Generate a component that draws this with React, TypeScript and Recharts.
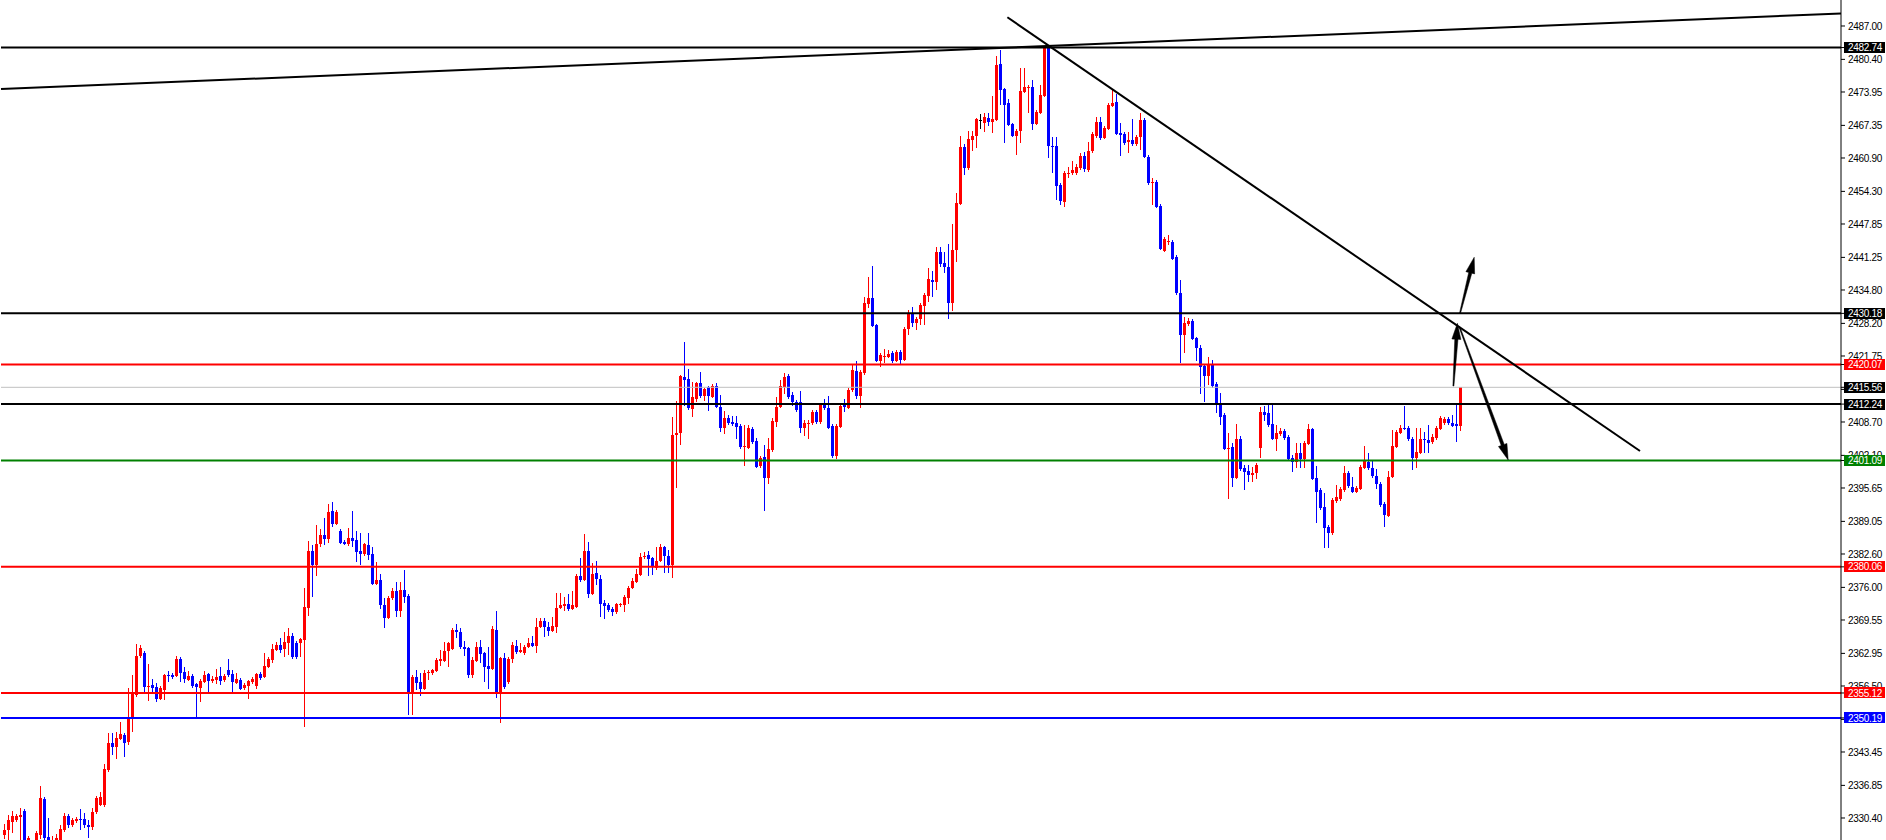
import React from 'react';
import { ComposedChart, Bar, XAxis, YAxis, ReferenceLine } from 'recharts';

const opens = [
  2327.0, 2328.0, 2329.6, 2330.0, 2330.6, 2331.8, 2326.1, 2324.1, 2325.1, 2327.0,
  2334.2, 2326.6, 2324.9, 2325.7, 2325.7, 2328.0, 2330.8, 2329.0, 2329.8, 2330.2,
  2330.2, 2329.0, 2328.6, 2331.6, 2332.9, 2332.9, 2339.9, 2345.2, 2344.4, 2346.0,
  2346.8, 2345.4, 2350.2, 2354.7, 2362.4, 2363.0, 2356.3, 2356.7, 2356.3, 2353.9,
  2355.7, 2358.7, 2358.7, 2358.5, 2361.8, 2359.3, 2357.7, 2358.5, 2356.9, 2356.1,
  2357.3, 2358.9, 2357.5, 2357.7, 2358.5, 2357.7, 2359.7, 2358.9, 2357.1, 2357.7,
  2356.1, 2356.5, 2357.3, 2356.5, 2358.9, 2358.3, 2360.3, 2361.6, 2363.6, 2364.6,
  2363.8, 2365.0, 2366.4, 2365.0, 2365.0, 2365.6, 2371.9, 2383.2, 2380.4, 2384.6,
  2386.4, 2385.6, 2391.1, 2388.5, 2387.1, 2385.0, 2384.6, 2385.8, 2385.4, 2383.2,
  2382.6, 2384.4, 2382.6, 2376.7, 2377.5, 2372.5, 2370.0, 2373.9, 2375.3, 2371.3,
  2375.5, 2374.3, 2355.1, 2358.3, 2357.3, 2355.9, 2359.0, 2359.1, 2359.5, 2361.4,
  2361.4, 2363.4, 2363.8, 2367.6, 2367.2, 2364.2, 2364.0, 2358.7, 2361.4, 2364.2,
  2363.0, 2360.5, 2359.9, 2367.6, 2354.9, 2362.0, 2357.3, 2361.8, 2364.4, 2363.2,
  2363.0, 2364.2, 2365.0, 2364.4, 2368.2, 2369.4, 2368.2, 2367.4, 2368.2, 2371.9,
  2372.3, 2372.7, 2371.7, 2372.1, 2378.3, 2377.5, 2383.2, 2374.7, 2378.8, 2377.7,
  2372.9, 2372.5, 2371.7, 2371.1, 2372.5, 2372.5, 2373.9, 2375.9, 2377.1, 2378.4,
  2382.0, 2382.4, 2381.8, 2379.8, 2381.2, 2384.0, 2382.2, 2380.4, 2406.1, 2406.5,
  2417.6, 2417.2, 2411.3, 2413.3, 2416.4, 2413.8, 2415.6, 2413.6, 2415.8, 2411.7,
  2407.5, 2409.5, 2408.7, 2408.5, 2407.9, 2403.7, 2403.6, 2407.3, 2404.9, 2400.0,
  2401.8, 2397.6, 2403.2, 2408.7, 2411.7, 2415.6, 2417.8, 2414.0, 2412.6, 2412.6,
  2407.5, 2408.3, 2408.5, 2410.7, 2408.7, 2412.1, 2411.5, 2407.9, 2402.0, 2407.7,
  2412.1, 2411.5, 2415.0, 2418.8, 2413.8, 2418.4, 2432.0, 2433.2, 2427.9, 2420.8,
  2421.6, 2421.6, 2422.3, 2420.8, 2422.5, 2421.0, 2427.1, 2430.2, 2428.3, 2429.1,
  2431.6, 2433.6, 2436.8, 2436.4, 2442.3, 2440.1, 2439.3, 2432.2, 2442.7, 2451.8,
  2463.1, 2458.9, 2464.5, 2465.2, 2468.5, 2467.8, 2468.8, 2468.0, 2468.4, 2479.5,
  2474.5, 2471.8, 2467.6, 2465.2, 2466.2, 2473.9, 2474.8, 2474.9, 2467.6, 2469.8,
  2473.2, 2482.6, 2463.3, 2463.3, 2455.6, 2452.2, 2457.7, 2457.9, 2457.9, 2458.9,
  2461.3, 2458.5, 2462.3, 2465.2, 2468.0, 2464.8, 2466.6, 2471.2, 2472.0, 2465.8,
  2465.6, 2464.1, 2464.5, 2463.7, 2465.0, 2468.4, 2461.1, 2456.0, 2456.2, 2451.4,
  2442.5, 2444.2, 2444.3, 2441.3, 2434.2, 2425.9, 2428.1, 2428.7, 2425.3, 2423.3,
  2419.8, 2417.8, 2420.2, 2416.2, 2412.5, 2410.1, 2403.4, 2403.8, 2397.6, 2405.3,
  2399.6, 2399.0, 2398.2, 2398.6, 2403.6, 2410.7, 2410.5, 2408.3, 2405.3, 2406.3,
  2406.9, 2405.7, 2401.6, 2400.8, 2402.6, 2401.4, 2404.3, 2407.3, 2397.6, 2395.3,
  2391.9, 2387.9, 2386.8, 2393.1, 2393.5, 2395.3, 2398.6, 2395.8, 2394.9, 2395.4,
  2399.6, 2400.8, 2399.6, 2398.0, 2396.4, 2392.5, 2390.1, 2397.8, 2403.8, 2406.5,
  2407.5, 2407.5, 2405.3, 2401.6, 2402.6, 2405.3, 2405.1, 2404.7, 2405.5, 2407.3,
  2408.5, 2409.3, 2408.5, 2408.3, 2407.9,
];

const highs = [
  2329.2, 2331.0, 2331.8, 2331.2, 2332.4, 2332.2, 2326.8, 2325.9, 2327.8, 2336.7,
  2334.6, 2330.4, 2326.8, 2327.2, 2329.0, 2331.4, 2331.2, 2330.4, 2330.6, 2332.2,
  2331.4, 2330.0, 2332.4, 2334.8, 2335.5, 2341.1, 2347.2, 2347.2, 2347.4, 2349.4,
  2347.2, 2356.1, 2358.7, 2364.8, 2364.6, 2363.4, 2360.9, 2357.9, 2357.1, 2356.5,
  2358.9, 2359.5, 2359.1, 2362.4, 2362.2, 2360.3, 2359.5, 2358.9, 2357.1, 2357.9,
  2359.5, 2359.1, 2358.5, 2359.9, 2360.3, 2358.9, 2361.8, 2359.7, 2359.1, 2358.1,
  2357.1, 2357.7, 2358.3, 2359.1, 2359.3, 2363.0, 2362.2, 2364.8, 2365.2, 2366.0,
  2367.2, 2368.0, 2367.0, 2365.4, 2366.0, 2375.9, 2385.1, 2384.4, 2388.3, 2387.5,
  2389.7, 2392.5, 2392.9, 2391.3, 2387.5, 2385.4, 2387.7, 2391.1, 2387.1, 2386.8,
  2384.8, 2386.8, 2384.0, 2381.0, 2378.6, 2373.9, 2374.3, 2375.9, 2377.1, 2377.1,
  2379.4, 2374.6, 2358.7, 2359.7, 2359.1, 2359.7, 2359.7, 2359.9, 2362.0, 2363.6,
  2365.2, 2365.2, 2368.0, 2368.8, 2368.0, 2365.4, 2364.2, 2362.2, 2365.2, 2365.6,
  2363.2, 2364.2, 2368.4, 2371.3, 2362.2, 2363.0, 2362.2, 2365.2, 2365.6, 2365.0,
  2364.6, 2366.0, 2366.4, 2369.9, 2369.9, 2369.9, 2369.2, 2370.1, 2374.9, 2374.9,
  2374.1, 2374.7, 2375.3, 2378.6, 2381.8, 2386.6, 2385.0, 2380.8, 2381.2, 2378.4,
  2373.5, 2372.9, 2372.1, 2372.9, 2372.9, 2374.5, 2376.3, 2377.9, 2379.6, 2382.8,
  2383.0, 2383.2, 2382.0, 2384.0, 2384.6, 2384.2, 2383.4, 2409.7, 2412.9, 2418.0,
  2424.5, 2419.2, 2416.6, 2416.6, 2418.6, 2415.4, 2415.8, 2416.2, 2416.4, 2414.0,
  2410.9, 2410.1, 2409.9, 2409.9, 2408.3, 2408.1, 2408.1, 2407.7, 2405.5, 2402.0,
  2404.2, 2405.5, 2409.5, 2413.6, 2417.0, 2418.4, 2418.2, 2414.6, 2413.0, 2414.8,
  2409.1, 2409.1, 2411.1, 2411.1, 2412.5, 2413.3, 2413.8, 2408.3, 2408.3, 2412.3,
  2413.3, 2415.4, 2420.0, 2420.8, 2419.0, 2433.4, 2437.4, 2439.5, 2428.1, 2422.3,
  2423.1, 2422.9, 2422.7, 2422.9, 2422.9, 2427.5, 2430.8, 2431.4, 2429.5, 2432.2,
  2434.2, 2439.1, 2438.6, 2443.3, 2443.3, 2442.3, 2443.9, 2447.8, 2454.0, 2465.3,
  2463.7, 2466.2, 2466.2, 2468.8, 2469.6, 2469.8, 2469.8, 2473.2, 2481.1, 2482.3,
  2474.7, 2472.6, 2467.8, 2466.6, 2478.7, 2478.7, 2475.3, 2476.3, 2470.4, 2475.3,
  2482.8, 2482.8, 2465.1, 2465.1, 2456.0, 2458.3, 2459.1, 2460.3, 2459.7, 2461.9,
  2462.1, 2464.1, 2466.0, 2469.0, 2469.0, 2467.2, 2471.8, 2474.5, 2473.6, 2467.8,
  2466.0, 2466.0, 2468.6, 2465.4, 2469.8, 2468.8, 2461.5, 2456.9, 2456.5, 2451.8,
  2445.3, 2445.7, 2444.7, 2441.7, 2436.8, 2429.5, 2429.3, 2429.1, 2425.5, 2423.9,
  2420.0, 2421.6, 2421.0, 2416.6, 2414.4, 2410.5, 2406.5, 2404.5, 2408.3, 2405.9,
  2400.2, 2400.2, 2399.8, 2400.6, 2411.7, 2411.9, 2412.1, 2412.5, 2408.1, 2407.5,
  2407.3, 2406.1, 2402.2, 2404.5, 2404.5, 2404.9, 2408.3, 2407.5, 2400.0, 2395.7,
  2394.7, 2388.3, 2393.7, 2396.2, 2395.8, 2400.0, 2399.0, 2397.8, 2396.0, 2400.2,
  2404.0, 2402.6, 2401.2, 2399.4, 2396.8, 2392.9, 2399.0, 2407.1, 2407.1, 2408.1,
  2411.9, 2407.9, 2405.7, 2407.5, 2407.5, 2406.7, 2408.1, 2406.3, 2407.9, 2409.9,
  2409.7, 2409.7, 2410.1, 2412.3, 2415.6,
];

const lows = [
  2326.2, 2326.1, 2327.4, 2329.6, 2326.1, 2325.8, 2325.7, 2323.5, 2324.7, 2326.2,
  2326.1, 2324.5, 2324.1, 2324.9, 2325.3, 2327.6, 2328.4, 2328.6, 2329.4, 2328.0,
  2328.4, 2326.4, 2328.0, 2331.2, 2332.8, 2332.6, 2339.5, 2342.8, 2342.1, 2345.8,
  2342.5, 2344.8, 2347.4, 2354.3, 2362.0, 2355.1, 2353.5, 2355.3, 2353.3, 2353.7,
  2353.7, 2357.3, 2357.9, 2358.3, 2357.3, 2357.1, 2357.5, 2356.1, 2350.2, 2353.3,
  2357.1, 2355.3, 2357.1, 2356.9, 2356.7, 2357.3, 2358.3, 2355.3, 2356.9, 2355.7,
  2355.7, 2353.9, 2356.9, 2355.9, 2357.7, 2358.1, 2360.1, 2361.0, 2363.4, 2363.0,
  2362.2, 2362.6, 2361.8, 2361.8, 2362.2, 2348.4, 2370.3, 2374.1, 2378.3, 2384.0,
  2384.4, 2384.8, 2387.9, 2388.3, 2384.6, 2384.4, 2384.2, 2384.0, 2381.0, 2380.4,
  2382.2, 2381.4, 2376.5, 2376.5, 2371.7, 2368.0, 2369.8, 2373.5, 2370.1, 2370.1,
  2372.9, 2350.8, 2350.8, 2355.7, 2354.5, 2355.7, 2357.7, 2358.7, 2359.3, 2360.5,
  2361.2, 2360.3, 2363.6, 2366.0, 2363.8, 2362.4, 2358.1, 2358.1, 2361.2, 2361.0,
  2357.3, 2355.9, 2359.7, 2354.1, 2349.2, 2355.9, 2356.9, 2361.0, 2362.8, 2363.0,
  2362.6, 2364.0, 2364.2, 2363.0, 2368.0, 2366.2, 2366.4, 2367.2, 2367.0, 2371.7,
  2371.3, 2371.3, 2371.5, 2371.9, 2377.1, 2377.3, 2373.9, 2374.5, 2376.5, 2370.1,
  2369.8, 2371.1, 2370.3, 2370.7, 2372.1, 2371.1, 2372.7, 2375.7, 2376.9, 2378.3,
  2381.6, 2378.3, 2378.4, 2379.4, 2381.0, 2378.8, 2378.8, 2377.9, 2395.6, 2404.1,
  2411.9, 2411.1, 2409.7, 2412.6, 2413.4, 2412.9, 2410.9, 2413.4, 2411.5, 2406.7,
  2406.3, 2408.1, 2407.9, 2405.3, 2403.4, 2400.0, 2403.4, 2404.4, 2399.6, 2399.6,
  2391.1, 2396.4, 2402.8, 2407.7, 2411.5, 2414.2, 2413.3, 2411.9, 2410.7, 2406.5,
  2405.9, 2405.3, 2408.1, 2408.3, 2408.3, 2411.1, 2407.3, 2401.6, 2401.4, 2407.5,
  2410.7, 2411.3, 2414.6, 2413.3, 2411.5, 2418.0, 2431.2, 2427.5, 2420.6, 2419.6,
  2420.4, 2421.4, 2420.4, 2420.6, 2419.9, 2420.8, 2425.9, 2427.5, 2426.9, 2427.9,
  2427.9, 2432.4, 2433.4, 2434.8, 2439.3, 2438.2, 2429.1, 2430.6, 2440.3, 2451.6,
  2457.5, 2458.5, 2462.3, 2462.9, 2466.6, 2466.0, 2467.2, 2465.8, 2468.2, 2471.4,
  2463.9, 2467.2, 2465.0, 2461.5, 2463.9, 2473.7, 2469.8, 2466.4, 2467.4, 2469.6,
  2473.0, 2460.9, 2457.9, 2452.6, 2451.6, 2451.2, 2456.9, 2457.5, 2457.5, 2458.5,
  2458.1, 2458.1, 2461.9, 2464.8, 2464.4, 2464.6, 2466.4, 2471.0, 2465.4, 2461.3,
  2463.5, 2461.9, 2463.3, 2463.3, 2462.5, 2460.9, 2455.6, 2451.6, 2451.0, 2442.7,
  2442.3, 2443.7, 2440.7, 2433.8, 2420.4, 2422.3, 2427.7, 2424.9, 2420.8, 2414.2,
  2412.6, 2416.0, 2415.4, 2410.5, 2408.1, 2403.2, 2393.5, 2395.8, 2397.4, 2399.0,
  2395.3, 2396.8, 2396.8, 2397.4, 2401.6, 2408.9, 2407.7, 2405.1, 2402.9, 2405.9,
  2405.1, 2401.2, 2398.8, 2399.6, 2399.6, 2399.6, 2404.1, 2397.2, 2388.7, 2391.3,
  2383.8, 2383.8, 2386.4, 2392.7, 2393.1, 2394.9, 2395.6, 2394.7, 2394.7, 2395.3,
  2399.4, 2399.2, 2397.6, 2395.4, 2391.9, 2388.0, 2389.9, 2397.6, 2403.6, 2406.3,
  2407.1, 2404.9, 2399.2, 2399.6, 2402.4, 2402.6, 2402.6, 2404.3, 2405.1, 2407.1,
  2408.1, 2408.1, 2407.7, 2404.7, 2406.9,
];

const closes = [
  2328.0, 2330.0, 2330.8, 2330.8, 2331.0, 2326.1, 2326.4, 2325.5, 2327.4, 2334.4,
  2326.4, 2325.1, 2326.1, 2326.4, 2328.2, 2330.8, 2329.0, 2330.0, 2330.2, 2330.0,
  2329.0, 2328.6, 2331.6, 2334.4, 2334.6, 2340.1, 2345.2, 2344.4, 2346.2, 2347.0,
  2345.2, 2350.2, 2354.9, 2362.4, 2364.0, 2356.3, 2356.5, 2356.1, 2353.9, 2356.1,
  2358.7, 2358.5, 2358.3, 2361.8, 2359.1, 2357.9, 2358.5, 2356.5, 2356.3, 2357.5,
  2358.7, 2357.5, 2357.9, 2358.3, 2357.5, 2358.5, 2358.7, 2357.3, 2357.9, 2355.9,
  2356.7, 2357.5, 2357.9, 2358.9, 2358.1, 2360.5, 2361.8, 2363.8, 2364.6, 2363.6,
  2365.2, 2366.4, 2362.2, 2362.2, 2365.8, 2372.1, 2383.2, 2380.4, 2384.6, 2386.4,
  2385.6, 2390.9, 2388.5, 2390.9, 2384.8, 2384.6, 2385.8, 2385.2, 2383.0, 2382.6,
  2384.6, 2382.4, 2376.7, 2377.5, 2372.5, 2370.0, 2373.9, 2375.3, 2371.3, 2375.5,
  2374.1, 2355.1, 2358.3, 2357.1, 2355.9, 2359.1, 2359.2, 2359.7, 2361.6, 2361.8,
  2363.4, 2365.0, 2367.6, 2367.2, 2364.2, 2363.8, 2358.7, 2361.6, 2364.2, 2362.8,
  2360.3, 2359.9, 2367.8, 2354.9, 2362.0, 2356.3, 2361.8, 2364.6, 2363.2, 2363.6,
  2364.2, 2365.0, 2364.4, 2368.2, 2369.4, 2368.2, 2367.4, 2368.4, 2371.9, 2372.5,
  2372.7, 2371.7, 2372.5, 2378.3, 2377.5, 2383.2, 2374.7, 2378.6, 2377.7, 2372.7,
  2372.3, 2371.5, 2371.1, 2372.7, 2372.7, 2374.1, 2375.9, 2377.3, 2378.6, 2382.0,
  2382.2, 2381.6, 2380.0, 2381.2, 2384.0, 2382.2, 2380.4, 2406.1, 2406.5, 2417.8,
  2417.0, 2411.5, 2413.6, 2416.4, 2413.8, 2415.2, 2413.8, 2415.8, 2411.7, 2407.5,
  2409.5, 2408.5, 2408.3, 2407.7, 2403.8, 2403.9, 2407.5, 2404.7, 2399.8, 2401.6,
  2397.6, 2403.4, 2408.9, 2411.7, 2415.8, 2417.6, 2413.6, 2412.6, 2411.1, 2407.5,
  2408.5, 2408.5, 2410.7, 2408.7, 2412.1, 2411.5, 2407.5, 2402.0, 2407.9, 2411.9,
  2411.7, 2415.0, 2419.0, 2413.8, 2418.6, 2432.2, 2433.2, 2427.7, 2420.8, 2421.9,
  2421.8, 2422.1, 2420.8, 2422.5, 2421.0, 2427.1, 2430.2, 2428.3, 2429.1, 2431.8,
  2433.8, 2437.0, 2436.4, 2442.3, 2439.9, 2439.3, 2432.2, 2442.7, 2452.0, 2463.1,
  2458.9, 2464.6, 2465.2, 2468.6, 2468.5, 2469.0, 2468.0, 2468.6, 2479.3, 2474.3,
  2471.4, 2467.4, 2465.2, 2466.2, 2474.1, 2474.9, 2475.0, 2467.6, 2470.0, 2473.4,
  2482.6, 2463.3, 2463.1, 2455.4, 2452.4, 2457.9, 2457.9, 2458.5, 2459.1, 2461.3,
  2458.7, 2462.3, 2465.6, 2468.0, 2464.8, 2466.8, 2471.4, 2471.8, 2465.6, 2465.5,
  2463.9, 2464.5, 2463.7, 2465.0, 2468.4, 2461.1, 2456.0, 2456.2, 2451.2, 2442.9,
  2444.9, 2444.4, 2440.9, 2434.2, 2425.9, 2428.3, 2428.7, 2425.1, 2423.3, 2419.6,
  2417.8, 2420.2, 2415.8, 2412.5, 2409.7, 2403.4, 2403.6, 2397.6, 2405.3, 2399.4,
  2398.8, 2398.2, 2398.6, 2400.2, 2410.7, 2410.1, 2408.1, 2405.3, 2406.5, 2406.9,
  2405.5, 2401.4, 2400.8, 2402.6, 2401.4, 2404.5, 2407.3, 2397.4, 2394.9, 2391.7,
  2387.7, 2386.8, 2393.3, 2393.9, 2395.4, 2398.6, 2396.0, 2394.9, 2395.6, 2399.8,
  2401.2, 2399.6, 2398.0, 2396.4, 2392.3, 2390.3, 2397.8, 2403.9, 2406.7, 2407.5,
  2407.4, 2405.3, 2401.6, 2402.8, 2405.3, 2405.1, 2404.5, 2405.7, 2407.5, 2409.5,
  2409.3, 2408.5, 2407.9, 2407.9, 2415.6,
];

// total bar slots on the time axis (candles + empty right margin)
const SLOTS = 460;

const priceTicks = [
  2487.0, 2480.4, 2473.95, 2467.35, 2460.9, 2454.3, 2447.85, 2441.25, 2434.8,
  2428.2, 2421.75, 2415.15, 2408.7, 2402.1, 2395.65, 2389.05, 2382.6, 2376.0,
  2369.55, 2362.95, 2356.5, 2349.9, 2343.45, 2336.85, 2330.4,
];

const levelPrices = [2482.74, 2430.18, 2420.07, 2415.56, 2412.24, 2401.09, 2380.06, 2355.12, 2350.19];
const levelColors = ['#000000', '#000000', '#ff0000', '#c0c0c0', '#000000', '#008000', '#ff0000', '#ff0000', '#0000ff'];
const levelLabelColors = ['#000000', '#000000', '#ff0000', '#000000', '#000000', '#008000', '#ff0000', '#ff0000', '#0000ff'];
const levelWidths = [2, 2, 2, 1, 2, 2, 2, 2, 2];

// trend lines: [barIndex, price] endpoints
const risingLine = [[-0.5, 2474.54], [459.5, 2489.47]];
const fallingLine = [[251.1, 2488.72], [409.25, 2402.97]];
const arrows = [
  [[362.6, 2415.82], [363.6, 2428.22]],
  [[364.25, 2430.19], [367.8, 2441.27]],
  [[364.1, 2427.54], [376.3, 2401.19]],
];

const Y_MIN = 2326.05;
const Y_MAX = 2492.14;

const data = Array.from({ length: SLOTS }, (_, i) =>
  i < opens.length
    ? { i, range: [lows[i], highs[i]], o: opens[i], h: highs[i], l: lows[i], c: closes[i] }
    : { i }
);

const Candle = (props: any) => {
  const { x, y, width, height, payload } = props;
  if (!payload || payload.o == null || !isFinite(y) || !isFinite(height)) return <g />;
  const { o, c, h, l } = payload;
  const top = Math.min(y, y + height);
  const bot = Math.max(y, y + height);
  const span = h - l;
  const ppu = span > 0 ? (bot - top) / span : 0;
  const yO = top + (h - o) * ppu;
  const yC = top + (h - c) * ppu;
  const cx = Math.round(x + width / 2 + 0.01);
  const color = c > o ? '#ff0000' : c < o ? '#0000ff' : '#000000';
  const bTop = Math.min(yO, yC);
  const bH = Math.max(1, Math.abs(yO - yC));
  return (
    <g>
      <rect x={cx} y={top} width={1} height={Math.max(1, bot - top)} fill={color} shapeRendering="crispEdges" />
      <rect x={cx - 1} y={bTop} width={3} height={bH} fill={color} shapeRendering="crispEdges" />
    </g>
  );
};

const AxisTick = (props: any) => {
  const { x, y, payload } = props;
  const v = Number(payload.value);
  const idx = levelPrices.findIndex((p) => Math.abs(p - v) < 1e-6);
  const font = { fontFamily: '"Liberation Sans", Arial, sans-serif', fontSize: 10, letterSpacing: -0.3 };
  if (idx >= 0) {
    return (
      <g>
        <rect x={x - 4} y={y - 5.5} width={41} height={11} fill={levelLabelColors[idx]} shapeRendering="crispEdges" />
        <text x={x} y={y + 3.6} fill="#ffffff" style={font}>{v.toFixed(2)}</text>
      </g>
    );
  }
  return (
    <text x={x} y={y + 3.6} fill="#000000" style={font}>{v.toFixed(2)}</text>
  );
};

const Arrow = (props: any) => {
  const { x1, y1, x2, y2 } = props;
  if (![x1, y1, x2, y2].every((v) => isFinite(v))) return <g />;
  const dx = x2 - x1;
  const dy = y2 - y1;
  const len = Math.sqrt(dx * dx + dy * dy) || 1;
  const ux = dx / len;
  const uy = dy / len;
  const nx = -uy;
  const ny = ux;
  const headLen = Math.min(16, len * 0.5);
  const headW = 4.5;
  const bx = x2 - ux * headLen;
  const by = y2 - uy * headLen;
  const pts = [
    [x1 + nx * 0.5, y1 + ny * 0.5],
    [bx + nx * 1.6, by + ny * 1.6],
    [bx + nx * headW, by + ny * headW],
    [x2, y2],
    [bx - nx * headW, by - ny * headW],
    [bx - nx * 1.6, by - ny * 1.6],
    [x1 - nx * 0.5, y1 - ny * 0.5],
  ];
  return <polygon points={pts.map((p) => p.join(',')).join(' ')} fill="#000" stroke="#000" strokeWidth={0.5} />;
};

export default function App() {
  return (
    <div style={{ position: 'absolute', left: 0, top: 0, width: 1886, height: 840, background: '#ffffff', overflow: 'hidden' }}>
      <ComposedChart width={1886} height={840} data={data} margin={{ top: 0, right: 0, bottom: 0, left: 1 }}>
        <XAxis xAxisId="cat" dataKey="i" type="category" hide />
        <XAxis xAxisId="num" dataKey="i" type="number" domain={[-0.5, SLOTS - 0.5]} allowDataOverflow hide />
        <YAxis
          orientation="right"
          width={45}
          type="number"
          domain={[Y_MIN, Y_MAX]}
          allowDataOverflow
          ticks={[...priceTicks, ...levelPrices]}
          interval={0}
          tickSize={4}
          tickMargin={3}
          axisLine={{ stroke: '#000', strokeWidth: 1 }}
          tickLine={{ stroke: '#000' }}
          tick={<AxisTick />}
        />
        <Bar xAxisId="cat" dataKey="range" barSize={3} isAnimationActive={false} shape={(p: any) => <Candle {...p} />} />
        {levelPrices.map((p, k) => (
          <ReferenceLine
            key={'lv' + k}
            xAxisId="num"
            y={p}
            stroke={levelColors[k]}
            strokeWidth={levelWidths[k]}
            ifOverflow="visible"
          />
        ))}
        <ReferenceLine
          xAxisId="num"
          segment={[{ x: risingLine[0][0], y: risingLine[0][1] }, { x: risingLine[1][0], y: risingLine[1][1] }]}
          stroke="#000"
          strokeWidth={2}
          ifOverflow="visible"
        />
        <ReferenceLine
          xAxisId="num"
          segment={[{ x: fallingLine[0][0], y: fallingLine[0][1] }, { x: fallingLine[1][0], y: fallingLine[1][1] }]}
          stroke="#000"
          strokeWidth={2}
          ifOverflow="visible"
        />
        {arrows.map((a, k) => (
          <ReferenceLine
            key={'ar' + k}
            xAxisId="num"
            segment={[{ x: a[0][0], y: a[0][1] }, { x: a[1][0], y: a[1][1] }]}
            ifOverflow="visible"
            shape={(p: any) => <Arrow {...p} />}
          />
        ))}
      </ComposedChart>
    </div>
  );
}
